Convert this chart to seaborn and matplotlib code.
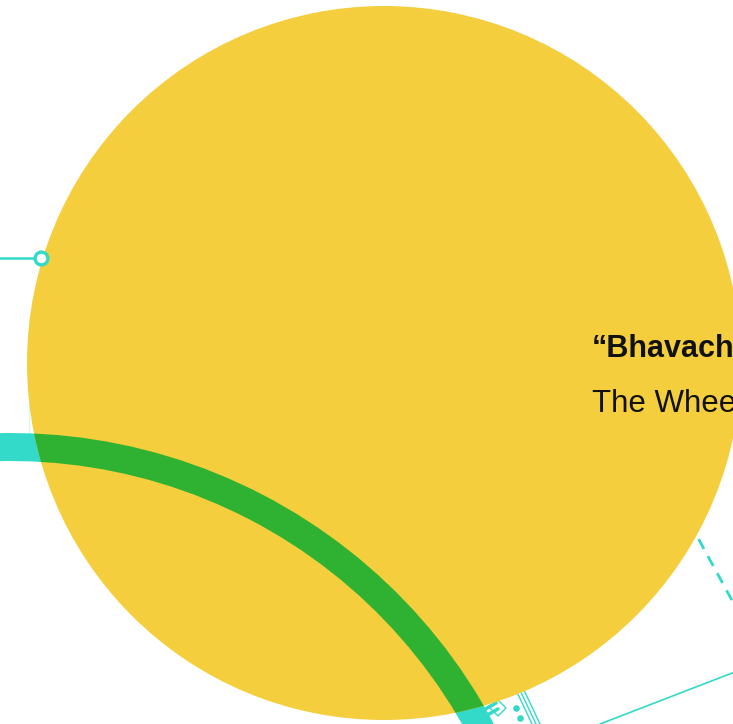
import numpy as np
import pandas as pd
import matplotlib
matplotlib.use("Agg")
import matplotlib.pyplot as plt
from matplotlib.patches import Circle, Wedge
import seaborn as sns

# Shapes of the fragment, in pixel units of the 733x724 canvas
disc_center = (384, 363)
disc_radius = 357
ring_center = (10, 981)
ring_radius = 534
ring_width = 28
ring_angles = (255, 340)

pointer_x = [0, 35]
pointer_y = [258, 258]
pointer_dot = (41, 258)

left_dash_x = [29, 29]
left_dash_y = [380, 433]
right_dash_x = [680, 740]
right_dash_y = [505, 615]
bottom_line_x = [600, 740]
bottom_line_y = [724, 670]

title = "\u201cBhavachakra\u201d"
subtitle = "The Wheel of Life"

teal = "#33D9C9"
yellow = "#F4CE3C"
green = "#2FB232"

sns.set_theme(style="white")
plt.rcParams["font.family"] = ["Liberation Sans", "DejaVu Sans"]

fig = plt.figure(figsize=(7.33, 7.24), dpi=100)
ax = fig.add_axes([0, 0, 1, 1])
ax.set_xlim(0, 733)
ax.set_ylim(724, 0)
ax.set_aspect("equal")
ax.axis("off")

# thin teal guide lines under the disc
sns.lineplot(x=left_dash_x, y=left_dash_y, color=teal, lw=1.5, ls=(0, (3, 3)), ax=ax, zorder=1)
sns.lineplot(x=right_dash_x, y=right_dash_y, color=teal, lw=2, ls=(0, (4, 3)), ax=ax, zorder=1)
sns.lineplot(x=bottom_line_x, y=bottom_line_y, color=teal, lw=1.2, ax=ax, zorder=1)

# small ornament at the bottom edge
for off in [0, 4, 8]:
    ax.plot([515 + off, 532 + off], [688, 724], color=teal, lw=1, zorder=1)
ax.scatter([516, 520], [708, 718], s=14, color=teal, zorder=1)
ax.plot([498, 506, 498, 490, 498], [700, 708, 716, 708, 700], color=teal, lw=1, zorder=1)
ax.plot([480, 496], [712, 703], color=teal, lw=2.5, zorder=1)
ax.plot([482, 498], [718, 709], color=teal, lw=2.5, zorder=1)

# teal ring
ring = Wedge(ring_center, ring_radius + ring_width / 2, *ring_angles, width=ring_width,
             color=teal, lw=0, zorder=1)
ax.add_patch(ring)

# yellow disc
disc = Circle(disc_center, disc_radius, color=yellow, lw=0, zorder=2)
ax.add_patch(disc)

# overlap of ring and disc
overlap = Wedge(ring_center, ring_radius + ring_width / 2, *ring_angles, width=ring_width,
                color=green, lw=0, zorder=3)
ax.add_patch(overlap)
overlap.set_clip_path(disc)

# pointer line with ring marker
sns.lineplot(x=pointer_x, y=pointer_y, color=teal, lw=1.8, ax=ax, zorder=4)
ax.scatter([pointer_dot[0]], [pointer_dot[1]], s=85, facecolor="white", edgecolor=teal,
           linewidth=2.4, zorder=5)

# title block runs off the right edge, as in the source
ax.text(592, 357, title, fontsize=22, fontweight="bold", color="#111111", zorder=6)
ax.text(592, 412, subtitle, fontsize=22.5, fontweight="light", color="#111111", zorder=6)

fig.savefig("out.png", dpi=100)
